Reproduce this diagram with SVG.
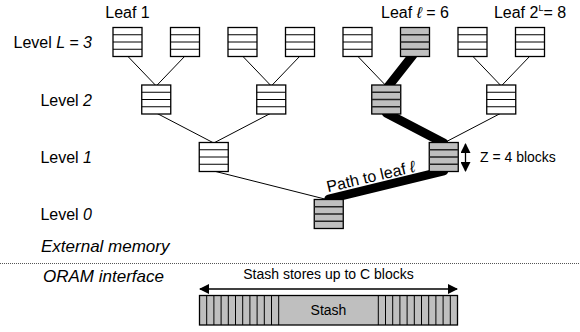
<svg xmlns="http://www.w3.org/2000/svg" width="580" height="332" viewBox="0 0 580 332">
<defs>
<marker id="ah" viewBox="0 0 10 10" refX="9" refY="5" markerWidth="10" markerHeight="10" markerUnits="userSpaceOnUse" orient="auto-start-reverse">
<path d="M0,0 L10,5 L0,10 Z" fill="#000"/>
</marker>
<g id="bw">
<rect x="0" y="0" width="29" height="29" fill="#fff" stroke="#000" stroke-width="1.3"/>
<path d="M0,7.25H29M0,14.5H29M0,21.75H29" stroke="#000" stroke-width="1"/>
</g>
<g id="bg">
<rect x="0" y="0" width="29" height="29" fill="#bfbfbf" stroke="#000" stroke-width="1.3"/>
<path d="M0,7.25H29M0,14.5H29M0,21.75H29" stroke="#222" stroke-width="1.3"/>
</g>
</defs>
<style>
text{font-family:"Liberation Sans",Arial,sans-serif;fill:#000}
.lbl{font-size:16px}
.big{font-size:17px}
.sm{font-size:14px}
.it{font-style:italic}
.thin{stroke:#000;stroke-width:1;fill:none}
.thick{stroke:#000;stroke-width:9;stroke-linecap:round;fill:none}
</style>
<rect width="580" height="332" fill="#fff"/>
<g id="connectors">
<line class="thin" x1="127.5" y1="56" x2="156.25" y2="86"/>
<line class="thin" x1="185" y1="56" x2="156.25" y2="86"/>
<line class="thin" x1="242.5" y1="56" x2="271.25" y2="86"/>
<line class="thin" x1="300" y1="56" x2="271.25" y2="86"/>
<line class="thin" x1="357.5" y1="56" x2="386.25" y2="86"/>
<line class="thin" x1="472.5" y1="56" x2="501.25" y2="86"/>
<line class="thin" x1="530" y1="56" x2="501.25" y2="86"/>
<line class="thin" x1="156.25" y1="113" x2="213.75" y2="143"/>
<line class="thin" x1="271.25" y1="113" x2="213.75" y2="143"/>
<line class="thin" x1="501.25" y1="113" x2="443.75" y2="143"/>
<line class="thin" x1="213.75" y1="171" x2="328.75" y2="200"/>
<path class="thick" d="M413,55 L387,88 M386.25,113 L443.75,143 M443.75,171 L328.75,199"/>
</g>
<g id="n3_1"><use href="#bw" x="113" y="27.5"/></g>
<g id="n3_2"><use href="#bw" x="170.5" y="27.5"/></g>
<g id="n3_3"><use href="#bw" x="228" y="27.5"/></g>
<g id="n3_4"><use href="#bw" x="285.5" y="27.5"/></g>
<g id="n3_5"><use href="#bw" x="343" y="27.5"/></g>
<g id="n3_6"><use href="#bg" x="400.5" y="27.5"/></g>
<g id="n3_7"><use href="#bw" x="458" y="27.5"/></g>
<g id="n3_8"><use href="#bw" x="515.5" y="27.5"/></g>
<g id="n2_1"><use href="#bw" x="141.75" y="85"/></g>
<g id="n2_2"><use href="#bw" x="256.75" y="85"/></g>
<g id="n2_3"><use href="#bg" x="371.75" y="85"/></g>
<g id="n2_4"><use href="#bw" x="486.75" y="85"/></g>
<g id="n1_1"><use href="#bw" x="199.25" y="142.5"/></g>
<g id="n1_2"><use href="#bg" x="429.25" y="142.5"/></g>
<g id="n0_1"><use href="#bg" x="314.25" y="199.5"/></g>
<g id="labels">
<text class="lbl" x="127.5" y="18" text-anchor="middle">Leaf 1</text>
<text class="lbl" x="415" y="18" text-anchor="middle">Leaf <tspan class="it">ℓ</tspan> = 6</text>
<text class="lbl" x="530" y="18" text-anchor="middle">Leaf 2<tspan font-size="9" dy="-7">L</tspan><tspan dy="7">= 8</tspan></text>
<text class="lbl" x="92" y="48" text-anchor="end">Level <tspan class="it">L = 3</tspan></text>
<text class="lbl" x="92" y="106" text-anchor="end">Level <tspan class="it">2</tspan></text>
<text class="lbl" x="92" y="163" text-anchor="end">Level <tspan class="it">1</tspan></text>
<text class="lbl" x="92" y="220" text-anchor="end">Level <tspan class="it">0</tspan></text>
<text class="sm" x="480" y="162">Z = 4 blocks</text>
<text class="lbl" transform="translate(372,182) rotate(-13.2)" text-anchor="middle">Path to leaf <tspan class="it">ℓ</tspan></text>
<line x1="465.5" y1="144" x2="465.5" y2="171" stroke="#000" stroke-width="1.3" marker-start="url(#ah)" marker-end="url(#ah)"/>
</g>
<g id="divider">
<text class="big it" x="41" y="252">External memory</text>
<line x1="0" y1="263.5" x2="580" y2="263.5" stroke="#555" stroke-width="1" stroke-dasharray="1,1"/>
<text class="big it" x="43" y="282">ORAM interface</text>
</g>
<g id="stash">
<text class="sm" x="328.5" y="279" text-anchor="middle">Stash stores up to C blocks</text>
<line x1="200" y1="289" x2="457" y2="289" stroke="#000" stroke-width="1.3" marker-start="url(#ah)" marker-end="url(#ah)"/>
<rect x="199.5" y="295.5" width="258" height="29.5" fill="#bfbfbf" stroke="#000" stroke-width="1.3"/>
<path d="M206.7,295.5V325M213.9,295.5V325M221.1,295.5V325M228.3,295.5V325M235.5,295.5V325M242.7,295.5V325M249.9,295.5V325M257.1,295.5V325M264.3,295.5V325M271.5,295.5V325M278.7,295.5V325M378.3,295.5V325M385.5,295.5V325M392.7,295.5V325M399.9,295.5V325M407.1,295.5V325M414.3,295.5V325M421.5,295.5V325M428.7,295.5V325M435.9,295.5V325M443.1,295.5V325M450.3,295.5V325" stroke="#000" stroke-width="1"/>
<text class="sm" x="328.5" y="315" text-anchor="middle">Stash</text>
</g>
</svg>
